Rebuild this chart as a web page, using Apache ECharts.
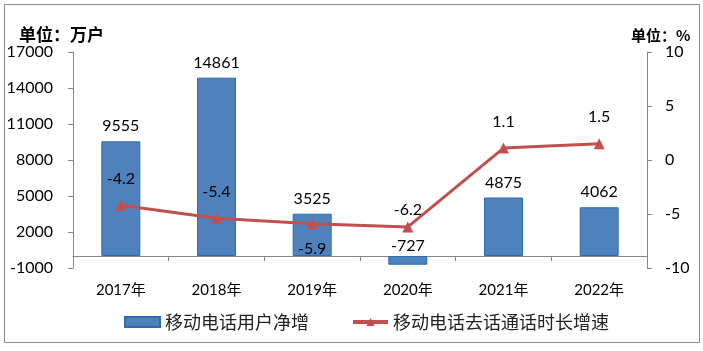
<!DOCTYPE html>
<html>
<head>
<meta charset="utf-8">
<script src="https://cdn.jsdelivr.net/npm/echarts@6/dist/echarts.min.js"></script>
<style>
  html, body { margin: 0; padding: 0; background: #fff; }
  #chart { width: 703px; height: 351px; }
</style>
</head>
<body>
<div id="chart"></div>
<script>
const years = ["2017年", "2018年", "2019年", "2020年", "2021年", "2022年"];
const netAdds = [9555, 14861, 3525, -727, 4875, 4062];
const callGrowth = [-4.2, -5.4, -5.9, -6.2, 1.1, 1.5];
const barName = "移动电话用户净增";
const lineName = "移动电话去话通话时长增速";

const FONT = 'Lato, "Noto Sans CJK SC", sans-serif';
const CJK = '"Noto Sans CJK SC", sans-serif';
const axisGray = "#868686";

// label tweaks: -5.9 sits under its point, -6.2 hugs it
const lineData = callGrowth.map((v, i) => {
  if (i === 2) return { value: v, label: { position: "bottom", distance: 12 } };
  if (i === 3) return { value: v, label: { distance: 4 } };
  return v;
});
const barData = netAdds.map((v) => (v < 0 ? { value: v, label: { position: "top", distance: 2 } } : v));

const chart = echarts.init(document.getElementById("chart"), null, { renderer: "canvas" });

chart.setOption({
  animation: false,
  textStyle: { fontFamily: FONT },
  graphic: [
    {
      type: "rect",
      shape: { x: 4.5, y: 4.5, width: 695, height: 338 },
      style: { fill: "none", stroke: "#8c8c8c", lineWidth: 1 },
      silent: true,
    },
  ],
  title: [
    {
      text: "单位：万户",
      left: 14,
      top: 21,
      textStyle: { fontSize: 17, fontWeight: "bold", color: "#000", fontFamily: CJK },
    },
    {
      text: "单位：%",
      left: 626,
      top: 23,
      textStyle: { fontSize: 15, fontWeight: "bold", color: "#000", fontFamily: CJK },
    },
  ],
  grid: { left: 73, right: 56, top: 52, bottom: 83 },
  legend: {
    data: [{ name: barName, icon: "rect" }, lineName],
    left: 119,
    top: 308,
    itemWidth: 35,
    itemHeight: 10,
    itemGap: 42,
    lineStyle: { width: 4 },
    textStyle: { fontSize: 18, color: "#222", fontFamily: CJK },
  },
  xAxis: [
    {
      type: "category",
      data: years,
      axisLine: { onZero: true, lineStyle: { color: axisGray, width: 1 } },
      axisTick: { show: true, length: 5, lineStyle: { color: axisGray } },
      axisLabel: { show: false },
    },
    {
      type: "category",
      data: years,
      position: "bottom",
      axisLine: { show: false },
      axisTick: { show: false },
      axisLabel: { fontSize: 15, color: "#000", margin: 15 },
    },
  ],
  yAxis: [
    {
      type: "value",
      min: -1000,
      max: 17000,
      interval: 3000,
      splitLine: { show: false },
      axisLine: { show: true, lineStyle: { color: axisGray } },
      axisTick: { show: true, length: 5, lineStyle: { color: axisGray } },
      axisLabel: { fontSize: 16, color: "#000", margin: 20, formatter: (v) => String(v) },
    },
    {
      type: "value",
      min: -10,
      max: 10,
      interval: 5,
      splitLine: { show: false },
      axisLine: { show: true, lineStyle: { color: axisGray } },
      axisTick: { show: true, length: 5, lineStyle: { color: axisGray } },
      axisLabel: { fontSize: 16, color: "#000", margin: 18 },
    },
  ],
  series: [
    {
      name: barName,
      type: "bar",
      xAxisIndex: 0,
      yAxisIndex: 0,
      data: barData,
      barWidth: 39,
      itemStyle: { color: "#4f81bd", borderColor: "#2a6db5", borderWidth: 1 },
      label: { show: true, position: "top", distance: 7, fontSize: 16, color: "#000" },
      z: 2,
    },
    {
      name: lineName,
      type: "line",
      xAxisIndex: 0,
      yAxisIndex: 1,
      data: lineData,
      symbol: "triangle",
      symbolSize: 11,
      lineStyle: { color: "#c0504d", width: 3 },
      itemStyle: { color: "#c0504d" },
      label: { show: true, position: "top", distance: 13, fontSize: 16, color: "#000" },
      z: 3,
    },
  ],
});
</script>
</body>
</html>
